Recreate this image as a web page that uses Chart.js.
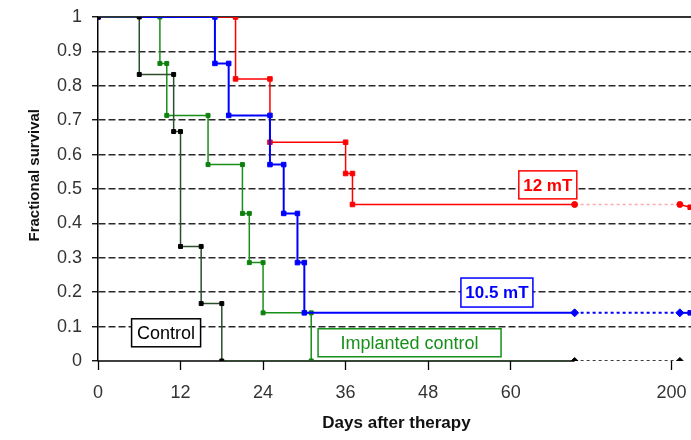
<!DOCTYPE html>
<html>
<head>
<meta charset="utf-8">
<script src="https://cdn.jsdelivr.net/npm/chart.js@4.4.1/dist/chart.umd.min.js"></script>
<style>
  html, body { margin: 0; padding: 0; background: #fff; overflow: hidden; }
  #wrap { width: 740px; height: 440px; }
</style>
</head>
<body>
<div id="wrap"><canvas id="survivalChart" width="740" height="440"></canvas></div>
<script>
// survival steps (day of event, survival after it)
const controlDays = [0, 6, 11, 12, 15, 18];
const controlSurvival = [1, 0.833, 0.667, 0.333, 0.167, 0];
const implantedDays = [0, 9, 10, 16, 21, 22, 24, 31];
const implantedSurvival = [1, 0.865, 0.714, 0.571, 0.429, 0.286, 0.14, 0];
const mt105Days = [0, 17, 19, 25, 27, 29, 30];
const mt105Survival = [1, 0.865, 0.714, 0.571, 0.429, 0.286, 0.14];
const mt12Days = [0, 20, 25, 36, 37];
const mt12Survival = [1, 0.82, 0.636, 0.545, 0.455];

// broken x axis: after the last observation the axis jumps to day 200
const lastObservedPos = 69.3;
const day200Pos = 83.4;
const day200PointPos = 84.6;
const edgePointPos = 86.1;
const mt12EdgeSurvival = 0.447;
const mt105EdgeSurvival = 0.14;

const xTickPos = [0, 12, 24, 36, 48, 60, day200Pos];
const xTickLabels = ['0', '12', '24', '36', '48', '60', '200'];
const yTicks = [0, 0.1, 0.2, 0.3, 0.4, 0.5, 0.6, 0.7, 0.8, 0.9, 1];
const yTickLabels = ['0', '0.1', '0.2', '0.3', '0.4', '0.5', '0.6', '0.7', '0.8', '0.9', '1'];

const FONT = "'Liberation Sans', Arial, sans-serif";

// turn event lists into corner points of a step curve
function stepPoints(days, surv) {
  const pts = [{ x: days[0], y: surv[0] }];
  for (let i = 1; i < days.length; i++) {
    pts.push({ x: days[i], y: surv[i - 1] });
    pts.push({ x: days[i], y: surv[i] });
  }
  return pts;
}

function makeDataset(label, days, surv, st) {
  const pts = stepPoints(days, surv);
  const tailStart = pts.length;
  if (st.tail) {
    const last = surv[surv.length - 1];
    pts.push({ x: lastObservedPos, y: last });
    pts.push({ x: day200PointPos, y: last });
    if (st.edge !== undefined) pts.push({ x: edgePointPos, y: st.edge });
  }
  return {
    label: label,
    data: pts,
    borderColor: st.color,
    borderWidth: st.width,
    fill: false,
    tension: 0,
    pointStyle: pts.map((p, i) => (i >= tailStart && i < tailStart + 2) ? st.tailMarker : 'rect'),
    pointRadius: pts.map((p, i) => (i >= tailStart && i < tailStart + 2) ? st.tailRadius : st.radius),
    pointBackgroundColor: st.marker,
    pointBorderColor: st.marker,
    pointBorderWidth: 1,
    segment: {
      borderDash: c => c.p0DataIndex === tailStart ? [3, 3] : undefined,
      borderColor: c => c.p0DataIndex === tailStart ? st.tailColor : undefined
    }
  };
}

const datasets = [
  makeDataset('Control', controlDays, controlSurvival,
    { color: '#2b4f2b', marker: '#000', width: 1.5, radius: 2.8, tail: true,
      tailMarker: 'rectRot', tailRadius: 3.5, tailColor: '#000' }),
  makeDataset('10.5 mT', mt105Days, mt105Survival,
    { color: '#0000ff', marker: '#0000ff', width: 2, radius: 3.2, tail: true, edge: mt105EdgeSurvival,
      tailMarker: 'rectRot', tailRadius: 4, tailColor: '#0000ff' }),
  makeDataset('12 mT', mt12Days, mt12Survival,
    { color: '#ff0000', marker: '#ff0000', width: 1.5, radius: 3.2, tail: true, edge: mt12EdgeSurvival,
      tailMarker: 'circle', tailRadius: 3, tailColor: '#ffaaaa' }),
  makeDataset('Implanted control', implantedDays, implantedSurvival,
    { color: '#17901a', marker: '#0f800f', width: 1.5, radius: 2.8, tail: false })
];

// text boxes placed in data coordinates
const labelBoxes = [
  { text: '12 mT', x: 65.4, y: 0.512, w: 58, h: 28, color: '#ff0000', weight: 'bold', size: 17 },
  { text: '10.5 mT', x: 58.0, y: 0.199, w: 72, h: 29, color: '#0000ff', weight: 'bold', size: 17 },
  { text: 'Control', x: 9.9, y: 0.082, w: 69, h: 28, color: '#000', weight: 'normal', size: 18 },
  { text: 'Implanted control', x: 45.3, y: 0.053, w: 183, h: 28, color: '#17901a', weight: 'normal', size: 18 }
];

const framePlugin = {
  id: 'frame',
  beforeDatasetsDraw(chart) {
    const { ctx, chartArea, scales: { x, y } } = chart;
    ctx.save();
    // solid line at 1
    ctx.strokeStyle = '#333';
    ctx.lineWidth = 2;
    ctx.beginPath();
    ctx.moveTo(chartArea.left, y.getPixelForValue(1));
    ctx.lineTo(chartArea.right, y.getPixelForValue(1));
    ctx.stroke();
    // x axis line up to the break
    ctx.strokeStyle = '#000';
    ctx.lineWidth = 1.5;
    ctx.beginPath();
    ctx.moveTo(chartArea.left, y.getPixelForValue(0));
    ctx.lineTo(x.getPixelForValue(lastObservedPos), y.getPixelForValue(0));
    ctx.stroke();
    ctx.restore();
  },
  afterDatasetsDraw(chart) {
    const { ctx, scales: { x, y } } = chart;
    ctx.save();
    labelBoxes.forEach(b => {
      const cx = x.getPixelForValue(b.x);
      const cy = y.getPixelForValue(b.y);
      ctx.fillStyle = '#fff';
      ctx.fillRect(cx - b.w / 2, cy - b.h / 2, b.w, b.h);
      ctx.strokeStyle = b.color;
      ctx.lineWidth = 1.5;
      ctx.strokeRect(cx - b.w / 2, cy - b.h / 2, b.w, b.h);
      ctx.fillStyle = b.color;
      ctx.font = b.weight + ' ' + b.size + 'px ' + FONT;
      ctx.textAlign = 'center';
      ctx.textBaseline = 'middle';
      ctx.fillText(b.text, cx, cy + 1);
    });

    // axis titles
    ctx.fillStyle = '#111';
    ctx.textAlign = 'center';
    ctx.textBaseline = 'middle';
    ctx.font = 'bold 17px ' + FONT;
    ctx.fillText('Days after therapy', x.getPixelForValue(43.4), 423);
    ctx.translate(35, y.getPixelForValue(0.54));
    ctx.rotate(-Math.PI / 2);
    ctx.font = 'bold 15px ' + FONT;
    ctx.fillText('Fractional survival', 0, 0);
    ctx.restore();
  }
};

new Chart(document.getElementById('survivalChart'), {
  type: 'line',
  data: { datasets: datasets },
  options: {
    responsive: false,
    animation: false,
    layout: { padding: { top: 17, right: 23, left: 0, bottom: 0 } },
    plugins: { legend: { display: false }, tooltip: { enabled: false } },
    scales: {
      x: {
        type: 'linear',
        min: 0,
        max: 90,
        afterBuildTicks: axis => { axis.ticks = xTickPos.map(v => ({ value: v })); },
        afterFit: axis => { axis.height = 79; axis.paddingLeft = 0; axis.paddingRight = 0; },
        ticks: {
          autoSkip: false,
          maxRotation: 0,
          padding: 12,
          color: '#333',
          font: { family: FONT, size: 18 },
          callback: (v, i) => xTickLabels[i]
        },
        grid: { drawOnChartArea: false, drawTicks: true, tickLength: 9, tickColor: '#000', tickWidth: 1.3 },
        border: { display: false }
      },
      y: {
        min: 0,
        max: 1,
        afterBuildTicks: axis => { axis.ticks = yTicks.map(v => ({ value: v })); },
        afterFit: axis => { axis.width = 98; axis.paddingTop = 0; axis.paddingBottom = 0; },
        ticks: {
          padding: 10,
          color: '#333',
          font: { family: FONT, size: 18 },
          callback: (v, i) => yTickLabels[i]
        },
        grid: {
          color: c => (c.tick && (c.tick.value === 0 || c.tick.value === 1)) ? 'rgba(0,0,0,0)' : '#2a2a2a',
          lineWidth: 1.5,
          drawTicks: true,
          tickLength: 6,
          tickColor: '#000',
          tickWidth: 1.3
        },
        border: { display: true, color: '#000', width: 1.5, dash: [7, 3] }
      }
    }
  },
  plugins: [framePlugin]
});
</script>
</body>
</html>
